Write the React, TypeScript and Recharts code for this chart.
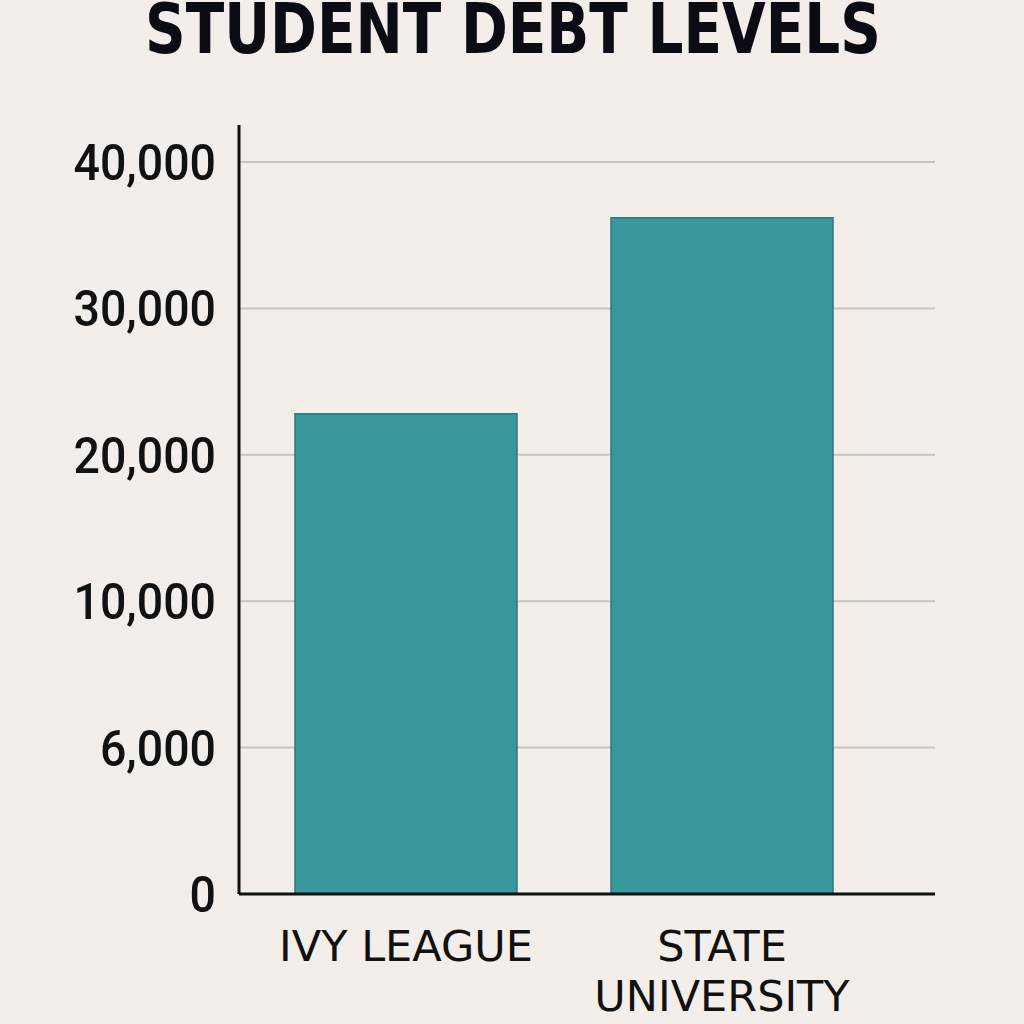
import React from "react";
import { BarChart, Bar, XAxis, YAxis, CartesianGrid } from "recharts";

const TITLE = "STUDENT DEBT LEVELS";
const categories = ["IVY LEAGUE", "STATE UNIVERSITY"];
const debtValues = [22800, 36200];
const tickValues = [0, 6000, 10000, 20000, 30000, 40000];
const tickLabels = ["0", "6,000", "10,000", "20,000", "30,000", "40,000"];

// The reference axis spaces its (uneven) tick values evenly; map a value to its position on that axis.
function toAxisPos(v: number): number {
  const n = tickValues.length;
  for (let i = 0; i < n - 1; i++) {
    if (v <= tickValues[i + 1]) {
      return i + (v - tickValues[i]) / (tickValues[i + 1] - tickValues[i]);
    }
  }
  return n - 2 + (v - tickValues[n - 2]) / (tickValues[n - 1] - tickValues[n - 2]);
}

const data = categories.map((name, i) => ({ name, value: debtValues[i] }));
const tickPositions = tickValues.map((_, i) => i);

const YTick = (props: any) => {
  const { x, y, payload } = props;
  const label = tickLabels[payload.value] ?? "";
  return (
    <g transform={`translate(${x - 23},${y + 18}) scale(0.93,1)`}>
      <text
        x={0}
        y={0}
        textAnchor="end"
        fontFamily="Roboto, 'Noto Sans', sans-serif"
        fontWeight={500}
        fontSize={50}
        fill="#111111"
      >
        {label}
      </text>
    </g>
  );
};

function wrapWords(s: string, maxChars: number): string[] {
  const words = s.split(" ");
  const lines: string[] = [];
  let cur = "";
  for (const w of words) {
    const next = cur ? cur + " " + w : w;
    if (next.length > maxChars && cur) {
      lines.push(cur);
      cur = w;
    } else {
      cur = next;
    }
  }
  if (cur) lines.push(cur);
  return lines;
}

const XTick = (props: any) => {
  const { x, y, payload } = props;
  const lines = wrapWords(String(payload.value), 10);
  return (
    <g>
      {lines.map((ln, i) => (
        <text
          key={i}
          x={x}
          y={y + 67 + i * 50}
          textAnchor="middle"
          fontFamily="'DejaVu Sans', sans-serif"
          fontSize={43}
          fill="#111111"
        >
          {ln}
        </text>
      ))}
    </g>
  );
};

const gridGenerator = (props: any) => {
  const yAxis = props?.yAxis;
  const scale = yAxis?.scale;
  if (typeof scale === "function") {
    return tickPositions.map((t) => scale(t));
  }
  if (scale && typeof scale.map === "function") {
    return tickPositions.map((t) => scale.map(t));
  }
  return [];
};

export default function App() {
  return (
    <div
      style={{
        position: "fixed",
        left: 0,
        top: 0,
        width: 1024,
        height: 1024,
        background: "#f3eee9",
        overflow: "hidden",
      }}
    >
      <svg
        width={1024}
        height={80}
        style={{ position: "absolute", left: 0, top: 0 }}
      >
        <text
          x={513}
          y={53}
          textAnchor="middle"
          textLength={736}
          lengthAdjust="spacingAndGlyphs"
          fontFamily="'Liberation Sans Narrow', 'DejaVu Sans Condensed', Roboto, sans-serif"
          fontWeight={700}
          fontSize={70}
          fill="#0b0b14"
        >
          {TITLE}
        </text>
      </svg>
      <div style={{ position: "absolute", left: 0, top: 0 }}>
        <BarChart
          width={1024}
          height={1024}
          data={data}
          margin={{ top: 125, right: 89, bottom: 20, left: 0 }}
        >
          <CartesianGrid
            vertical={false}
            horizontal={true}
            stroke="#c9c4bf"
            strokeWidth={2}
            horizontalCoordinatesGenerator={gridGenerator}
          />
          <XAxis
            dataKey="name"
            height={110}
            axisLine={{ stroke: "#111111", strokeWidth: 3 }}
            tickLine={false}
            tickSize={0}
            tickMargin={0}
            padding={{ left: 9, right: 55 }}
            tick={<XTick />}
            interval={0}
          />
          <YAxis
            type="number"
            width={239}
            domain={[0, 5]}
            padding={{ top: 37, bottom: 0 }}
            ticks={tickPositions}
            axisLine={{ stroke: "#111111", strokeWidth: 3 }}
            tickLine={false}
            tickSize={0}
            tickMargin={0}
            tick={<YTick />}
            interval={0}
          />
          <Bar
            dataKey={(d: any) => toAxisPos(d.value)}
            fill="#37979b"
            stroke="#2b7a7e"
            strokeWidth={1.5}
            barSize={222}
            isAnimationActive={false}
          />
        </BarChart>
      </div>
    </div>
  );
}
